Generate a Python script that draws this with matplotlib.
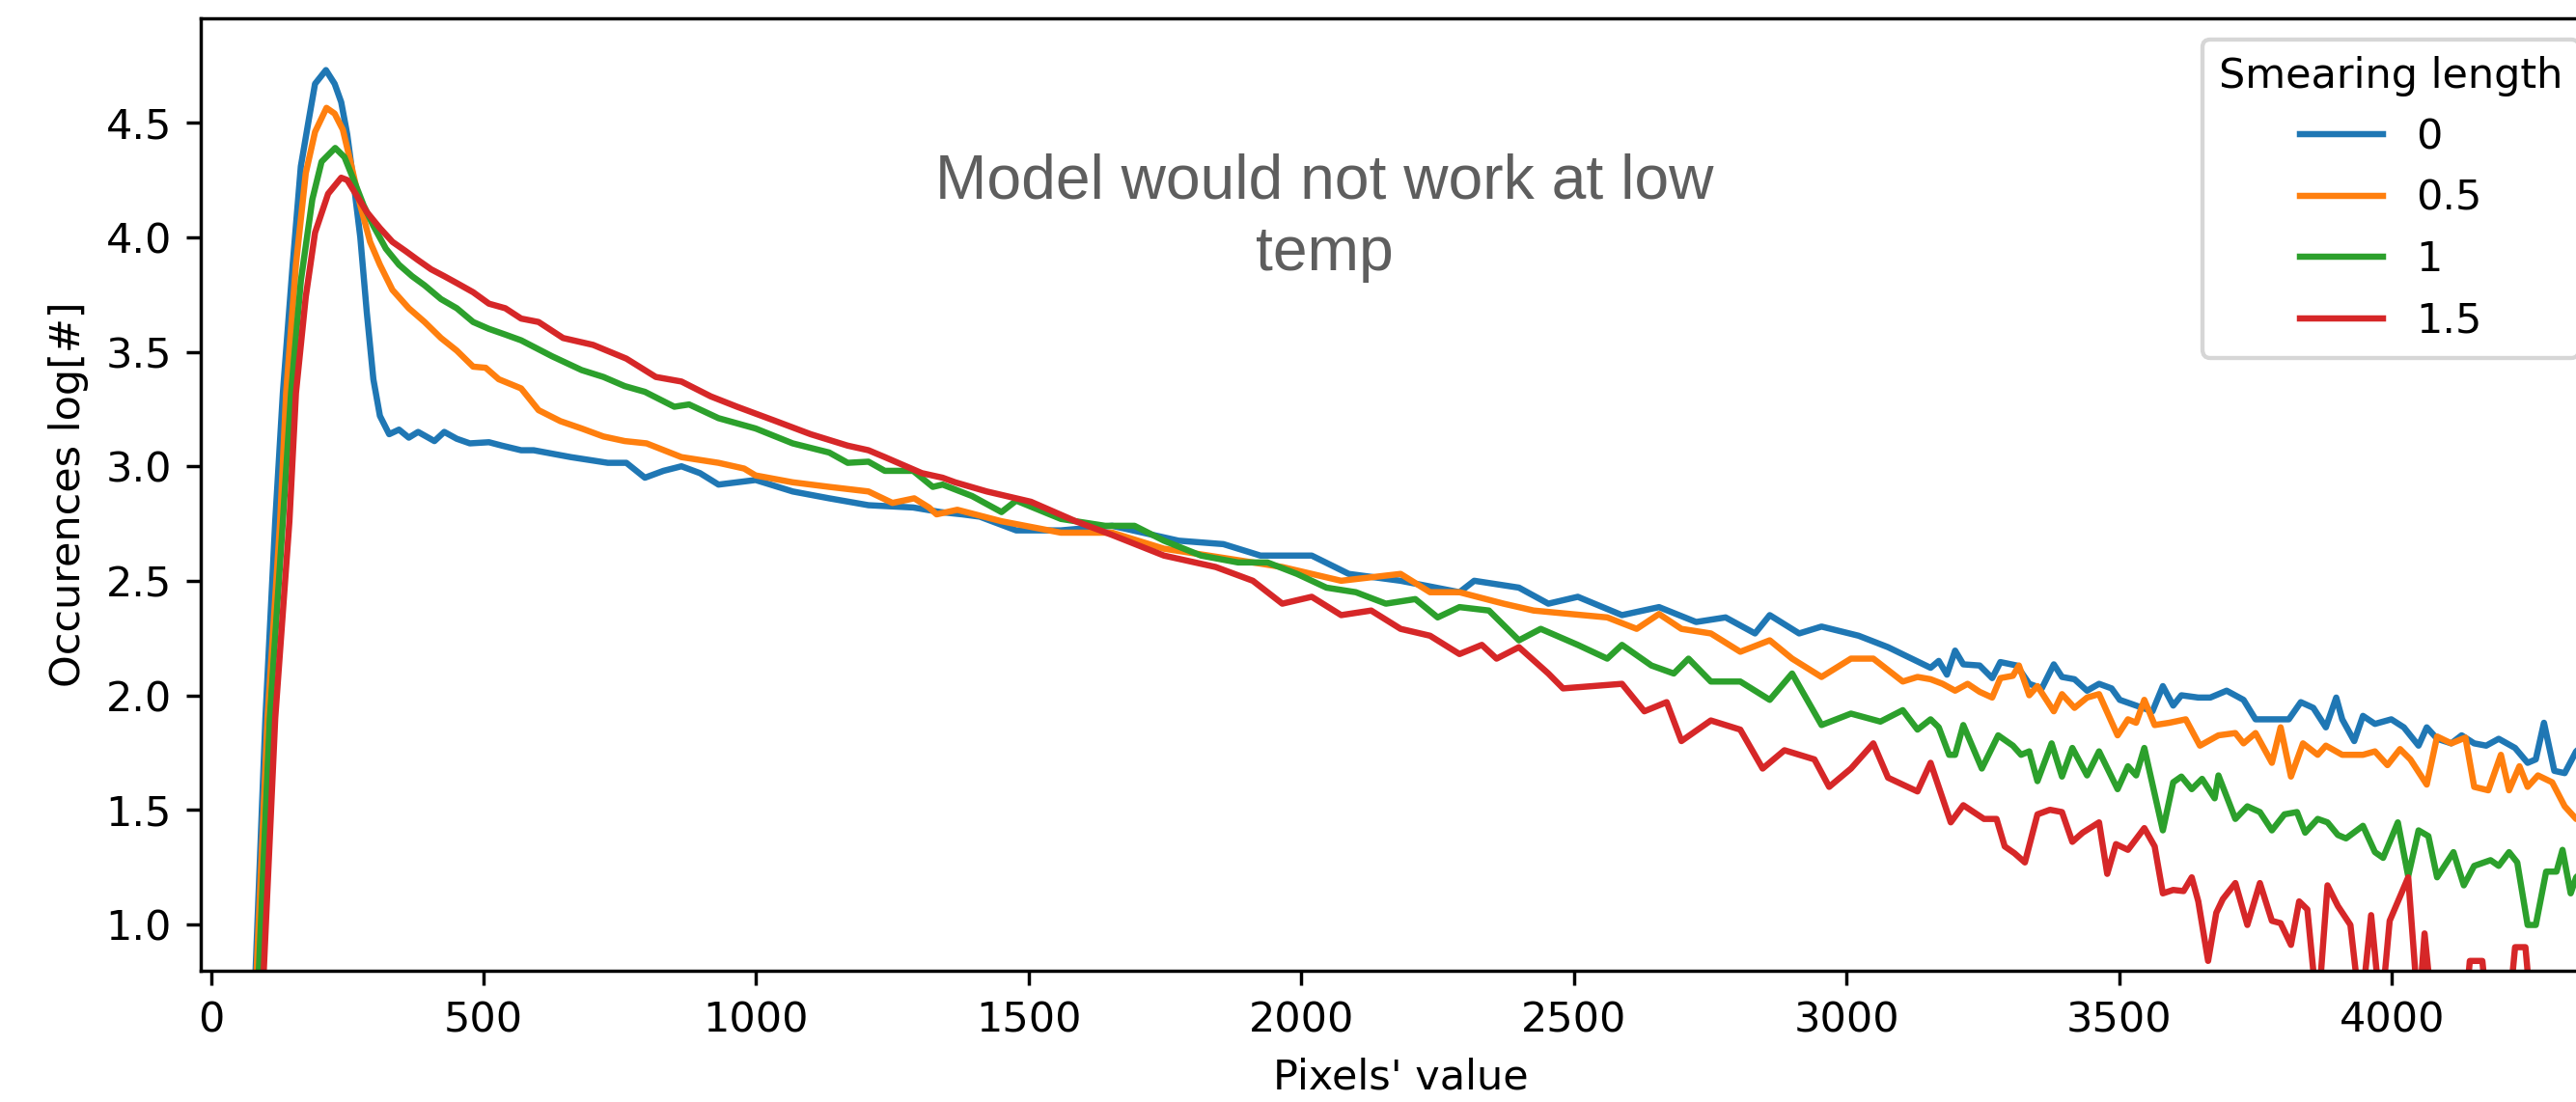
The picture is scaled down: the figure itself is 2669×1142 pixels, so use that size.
import matplotlib
matplotlib.use("Agg")
import matplotlib.pyplot as plt

# ---------------- data ----------------
labels = ["0", "0.5", "1", "1.5"]

x_s0 = [70, 82, 100, 118, 132, 150, 165, 180, 191, 211, 227, 239, 250, 262, 274, 286, 298, 310, 327, 345,
        363, 380, 410, 428, 451, 475, 510, 534, 569, 592, 660, 728, 762, 796, 830, 863, 897, 931, 999, 1067,
        1134, 1206, 1288, 1338, 1378, 1410, 1477, 1559, 1653, 1775, 1857, 1925, 2019, 2087, 2182, 2290, 2317,
        2399, 2453, 2507, 2588, 2656, 2724, 2778, 2832, 2859, 2913, 2954, 3022, 3076, 3154, 3169, 3184, 3199,
        3214, 3244, 3267, 3282, 3312, 3335, 3358, 3380, 3395, 3418, 3441, 3463, 3486, 3501, 3531, 3561, 3580,
        3599, 3614, 3645, 3667, 3697, 3728, 3750, 3780, 3811, 3833, 3856, 3879, 3898, 3909, 3931, 3947, 3969,
        3999, 4022, 4049, 4064, 4083, 4109, 4128, 4151, 4173, 4196, 4226, 4249, 4264, 4279, 4298, 4317, 4338,
        4360]
y_s0 = [0.10, 0.80, 1.90, 2.76, 3.32, 3.88, 4.31, 4.52, 4.67, 4.73, 4.67, 4.59, 4.45, 4.235, 4.00, 3.67, 3.38,
        3.22, 3.14, 3.16, 3.125, 3.15, 3.11, 3.15, 3.12, 3.10, 3.105, 3.09, 3.07, 3.07, 3.04, 3.015, 3.015, 2.95,
        2.98, 3.00, 2.97, 2.92, 2.94, 2.89, 2.86, 2.83, 2.82, 2.80, 2.79, 2.78, 2.72, 2.72, 2.74, 2.675, 2.66,
        2.61, 2.61, 2.53, 2.50, 2.45, 2.50, 2.47, 2.40, 2.43, 2.35, 2.385, 2.32, 2.34, 2.27, 2.35, 2.27, 2.30,
        2.26, 2.21, 2.12, 2.15, 2.09, 2.195, 2.135, 2.13, 2.075, 2.145, 2.13, 2.05, 2.03, 2.135, 2.08, 2.07,
        2.02, 2.05, 2.03, 1.98, 1.955, 1.93, 2.04, 1.955, 2.00, 1.99, 1.99, 2.02, 1.98, 1.895, 1.895, 1.895,
        1.97, 1.945, 1.86, 1.99, 1.895, 1.80, 1.91, 1.875, 1.895, 1.86, 1.78, 1.86, 1.81, 1.79, 1.825, 1.79,
        1.78, 1.81, 1.77, 1.705, 1.72, 1.88, 1.67, 1.66, 1.755, 1.80]

x_s05 = [70, 84, 104, 127, 138, 156, 174, 191, 212, 227, 242, 256, 274, 292, 310, 333, 363, 392, 422, 451,
         481, 504, 528, 569, 601, 641, 680, 720, 759, 799, 863, 931, 978, 999, 1067, 1134, 1206, 1250, 1290,
         1317, 1331, 1369, 1450, 1559, 1653, 1748, 1830, 1911, 1965, 2073, 2182, 2236, 2290, 2371, 2426, 2493,
         2561, 2615, 2656, 2697, 2751, 2805, 2859, 2900, 2954, 3008, 3049, 3103, 3130, 3154, 3176, 3199, 3222,
         3244, 3267, 3282, 3305, 3316, 3335, 3350, 3380, 3395, 3418, 3441, 3463, 3497, 3516, 3531, 3546, 3565,
         3592, 3622, 3648, 3682, 3713, 3728, 3750, 3780, 3796, 3815, 3837, 3864, 3879, 3909, 3947, 3969, 3992,
         4015, 4034, 4064, 4083, 4109, 4135, 4151, 4177, 4200, 4215, 4234, 4249, 4268, 4294, 4317, 4338, 4360]
y_s05 = [0.10, 0.80, 1.90, 2.76, 3.32, 3.88, 4.28, 4.46, 4.565, 4.54, 4.47, 4.33, 4.14, 3.98, 3.88, 3.77, 3.69,
         3.63, 3.56, 3.505, 3.435, 3.43, 3.38, 3.34, 3.245, 3.197, 3.165, 3.13, 3.11, 3.10, 3.04, 3.015, 2.99,
         2.96, 2.93, 2.91, 2.89, 2.84, 2.86, 2.82, 2.79, 2.81, 2.76, 2.71, 2.71, 2.64, 2.61, 2.58, 2.56, 2.50,
         2.53, 2.45, 2.45, 2.40, 2.37, 2.355, 2.34, 2.29, 2.355, 2.29, 2.27, 2.19, 2.24, 2.16, 2.08, 2.16, 2.16,
         2.06, 2.08, 2.07, 2.05, 2.02, 2.05, 2.015, 1.99, 2.075, 2.085, 2.13, 2.00, 2.04, 1.93, 2.005, 1.945,
         1.99, 2.005, 1.825, 1.895, 1.88, 1.98, 1.87, 1.88, 1.895, 1.78, 1.825, 1.835, 1.79, 1.835, 1.705, 1.86,
         1.645, 1.79, 1.74, 1.78, 1.74, 1.74, 1.755, 1.695, 1.765, 1.72, 1.61, 1.82, 1.79, 1.815, 1.60, 1.585,
         1.74, 1.585, 1.69, 1.60, 1.65, 1.62, 1.515, 1.46, 1.45]

x_s1 = [70, 88, 108, 132, 147, 165, 186, 203, 228, 245, 262, 280, 298, 321, 345, 369, 392, 422, 451, 481,
        510, 540, 569, 626, 680, 720, 759, 796, 850, 877, 931, 999, 1067, 1134, 1168, 1206, 1236, 1288, 1324,
        1342, 1396, 1450, 1477, 1559, 1640, 1694, 1748, 1816, 1884, 1938, 1992, 2046, 2100, 2155, 2209, 2250,
        2290, 2344, 2399, 2439, 2507, 2561, 2588, 2642, 2683, 2710, 2751, 2805, 2859, 2900, 2954, 3008, 3062,
        3103, 3130, 3154, 3169, 3188, 3199, 3214, 3248, 3278, 3305, 3320, 3335, 3350, 3376, 3395, 3414, 3441,
        3463, 3497, 3516, 3531, 3546, 3580, 3599, 3614, 3633, 3652, 3675, 3682, 3713, 3735, 3758, 3780, 3803,
        3826, 3841, 3864, 3882, 3901, 3916, 3947, 3969, 3984, 4011, 4030, 4049, 4067, 4083, 4113, 4132, 4151,
        4181, 4196, 4215, 4230, 4249, 4264, 4283, 4302, 4313, 4328, 4338, 4360]
y_s1 = [0.05, 0.80, 1.90, 2.76, 3.32, 3.81, 4.165, 4.33, 4.39, 4.35, 4.25, 4.14, 4.05, 3.95, 3.88, 3.83, 3.79,
        3.73, 3.69, 3.63, 3.60, 3.575, 3.55, 3.48, 3.42, 3.39, 3.35, 3.325, 3.26, 3.27, 3.21, 3.165, 3.10, 3.06,
        3.015, 3.02, 2.98, 2.98, 2.91, 2.92, 2.87, 2.80, 2.85, 2.77, 2.74, 2.74, 2.675, 2.61, 2.58, 2.58, 2.53,
        2.47, 2.45, 2.40, 2.42, 2.34, 2.385, 2.37, 2.24, 2.29, 2.22, 2.16, 2.22, 2.13, 2.095, 2.16, 2.06, 2.06,
        1.98, 2.095, 1.87, 1.92, 1.885, 1.935, 1.85, 1.895, 1.86, 1.74, 1.74, 1.87, 1.68, 1.825, 1.78, 1.74,
        1.755, 1.625, 1.79, 1.645, 1.77, 1.65, 1.755, 1.59, 1.69, 1.65, 1.77, 1.41, 1.62, 1.645, 1.59, 1.635,
        1.55, 1.65, 1.46, 1.515, 1.49, 1.41, 1.48, 1.49, 1.40, 1.46, 1.445, 1.39, 1.375, 1.43, 1.315, 1.29,
        1.445, 1.21, 1.41, 1.385, 1.205, 1.315, 1.17, 1.255, 1.28, 1.255, 1.315, 1.27, 0.997, 0.997, 1.23,
        1.23, 1.325, 1.135, 1.205, 1.25]

x_s15 = [70, 97, 118, 144, 156, 174, 191, 215, 239, 250, 268, 286, 310, 333, 357, 380, 404, 428, 451, 481,
         510, 540, 569, 601, 646, 701, 762, 816, 863, 917, 965, 1033, 1100, 1168, 1206, 1236, 1304, 1342, 1365,
         1423, 1504, 1586, 1653, 1748, 1843, 1911, 1965, 2019, 2073, 2128, 2182, 2236, 2290, 2331, 2358, 2399,
         2453, 2480, 2534, 2588, 2629, 2670, 2697, 2751, 2805, 2846, 2886, 2941, 2968, 3008, 3049, 3076, 3130,
         3154, 3169, 3191, 3214, 3252, 3275, 3290, 3308, 3327, 3350, 3373, 3395, 3414, 3433, 3463, 3478, 3494,
         3516, 3546, 3565, 3580, 3599, 3618, 3633, 3645, 3663, 3678, 3690, 3713, 3735, 3758, 3780, 3796, 3815,
         3830, 3845, 3864, 3882, 3901, 3924, 3943, 3962, 3980, 3996, 4030, 4049, 4060, 4075, 4100, 4130, 4143,
         4166, 4180, 4210, 4226, 4245, 4260, 4300, 4338, 4360]
y_s15 = [-0.20, 0.80, 1.90, 2.76, 3.32, 3.74, 4.02, 4.19, 4.26, 4.25, 4.18, 4.11, 4.04, 3.98, 3.94, 3.90, 3.86,
         3.83, 3.80, 3.76, 3.71, 3.69, 3.645, 3.63, 3.56, 3.53, 3.47, 3.39, 3.37, 3.305, 3.26, 3.20, 3.14, 3.09,
         3.07, 3.04, 2.97, 2.95, 2.93, 2.89, 2.845, 2.76, 2.70, 2.61, 2.56, 2.50, 2.40, 2.43, 2.35, 2.37, 2.29,
         2.26, 2.18, 2.22, 2.16, 2.21, 2.095, 2.03, 2.04, 2.05, 1.93, 1.97, 1.80, 1.89, 1.85, 1.68, 1.76, 1.72,
         1.60, 1.68, 1.79, 1.64, 1.58, 1.705, 1.60, 1.445, 1.52, 1.46, 1.46, 1.34, 1.31, 1.27, 1.48, 1.50, 1.49,
         1.36, 1.40, 1.445, 1.22, 1.35, 1.325, 1.42, 1.34, 1.135, 1.15, 1.145, 1.205, 1.10, 0.84, 1.05, 1.11,
         1.18, 0.997, 1.18, 1.015, 1.005, 0.91, 1.10, 1.065, 0.60, 1.17, 1.08, 0.997, 0.60, 1.04, 0.60, 1.015,
         1.205, 0.60, 0.96, 0.60, 0.50, 0.50, 0.84, 0.84, 0.50, 0.50, 0.90, 0.90, 0.50, 0.50, 0.50, 0.50]

series_x = [x_s0, x_s05, x_s1, x_s15]
series_y = [y_s0, y_s05, y_s1, y_s15]

# ---------------- figure ----------------
DPI = 310
fig = plt.figure(figsize=(2669 / DPI, 1142 / DPI), dpi=DPI)
ax = fig.add_axes([208 / 2669, 1 - 1006 / 1142, (2694 - 208) / 2669, (1006 - 19) / 1142])

for xs, ys, lab in zip(series_x, series_y, labels):
    ax.plot(xs, ys, label=lab)

ax.set_xlim(-18.6, 4382)
ax.set_ylim(0.797, 4.956)
ax.set_xticks([0, 500, 1000, 1500, 2000, 2500, 3000, 3500, 4000])
ax.set_yticks([1.0, 1.5, 2.0, 2.5, 3.0, 3.5, 4.0, 4.5])
ax.set_xlabel("Pixels' value")
ax.set_ylabel("Occurences log[#]")
ax.legend(title="Smearing length", loc="upper right")

ann_font = dict(family=["Liberation Sans", "DejaVu Sans"], size=14.9, color="#5e5e5e")
fig.text(1372 / 2669, 1 - 206 / 1142, "Model would not work at low", ha="center", va="baseline", **ann_font)
fig.text(1372 / 2669, 1 - 280 / 1142, "temp", ha="center", va="baseline", **ann_font)

fig.savefig("out.png", dpi=DPI)
